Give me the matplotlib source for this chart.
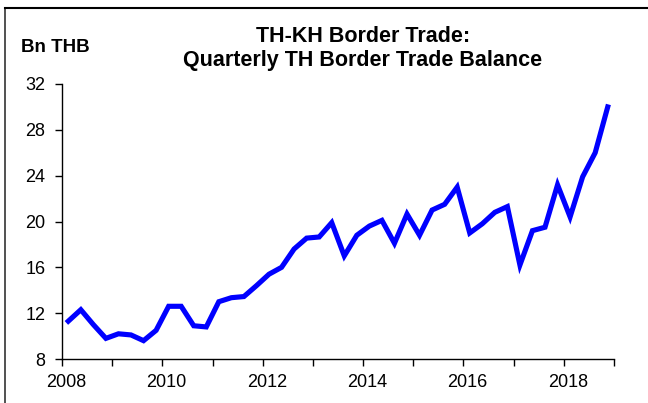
import numpy as np
import matplotlib
matplotlib.use('Agg')
import matplotlib.pyplot as plt
import matplotlib.transforms as mtransforms
from matplotlib.lines import Line2D

plt.rcParams['font.family'] = ['Liberation Sans', 'DejaVu Sans']

# quarterly balance, 2008Q1 .. 2018Q4 (Bn THB)
years = list(range(2008, 2019))
balance = [11.3, 12.3, 11.0, 9.8,
           10.2, 10.1, 9.6, 10.5,
           12.6, 12.6, 10.9, 10.8,
           13.0, 13.35, 13.45, 14.4,
           15.4, 16.0, 17.6, 18.55,
           18.65, 19.9, 17.0, 18.8,
           19.6, 20.1, 18.1, 20.65,
           18.8, 21.0, 21.5, 23.0,
           19.0, 19.8, 20.8, 21.3,
           16.2, 19.2, 19.5, 23.2,
           20.4, 23.9, 26.0, 30.0]
quarter_pos = [y + (q - 0.5) / 4 for y in years for q in range(1, 5)]

yticks = [8, 12, 16, 20, 24, 28, 32]
xticks = list(range(2008, 2020))
xlabels = [str(y) if y % 2 == 0 else '' for y in xticks]

W, H = 648, 403
fig = plt.figure(figsize=(W / 100, H / 100), dpi=100)
ax = fig.add_axes([62 / W, 1 - 359 / H, (614 - 62) / W, (359 - 84) / H])

ax.plot(quarter_pos, balance, color='#0000FF', lw=3.7, solid_joinstyle='miter')

ax.set_xlim(2008, 2019)
ax.set_ylim(8, 32)
ax.set_yticks(yticks)
ax.set_xticks(xticks)
ax.set_xticklabels(xlabels)
ax.tick_params(axis='both', labelsize=13, length=5, width=1, direction='out')
ax.tick_params(axis='x', pad=6)
ax.tick_params(axis='y', pad=7)
for s in ['top', 'right']:
    ax.spines[s].set_visible(False)
for s in ['left', 'bottom']:
    ax.spines[s].set_linewidth(1)

# year labels sit a little right of their ticks in the original
shift = mtransforms.ScaledTranslation(4 / 100, 0, fig.dpi_scale_trans)
for lbl in ax.get_xticklabels():
    lbl.set_transform(lbl.get_transform() + shift)

fig.text(363 / W, 1 - 37 / H, 'TH-KH Border Trade:', ha='center', va='center',
         fontsize=15.5, fontweight='bold')
fig.text(363 / W, 1 - 60.5 / H, 'Quarterly TH Border Trade Balance', ha='center', va='center',
         fontsize=15.5, fontweight='bold')
fig.text(21 / W, 1 - 47 / H, 'Bn THB', ha='left', va='center',
         fontsize=13.5, fontweight='bold')

# frame border (left and top only)
fig.add_artist(Line2D([5 / W, 5 / W], [0, 1 - 8 / H], transform=fig.transFigure, color='#333333', lw=1.2))
fig.add_artist(Line2D([5 / W, 1], [1 - 8 / H, 1 - 8 / H], transform=fig.transFigure, color='black', lw=1.5))

fig.savefig('out.png', dpi=100)
